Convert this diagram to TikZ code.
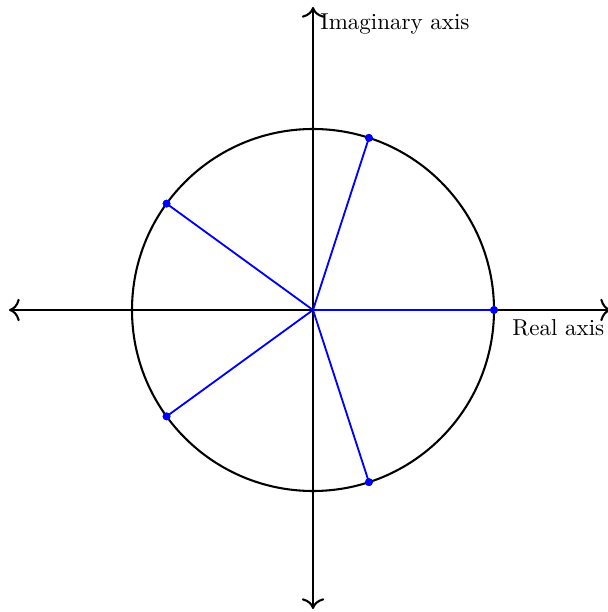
\documentclass[tikz,border=0pt]{standalone}
\usetikzlibrary{calc,arrows.meta}
\begin{document}
\begin{tikzpicture}[x=0.4348pt,y=-0.4348pt,
  axis/.style={line width=0.9pt,{To[scale=1.3]}-{To[scale=1.3]}},
  spoke/.style={blue,line width=0.8pt},
  dot/.style={circle,fill=blue,inner sep=0pt,minimum size=3.4pt},
  lbl/.style={inner sep=0pt,font=\normalsize}]
\useasboundingbox (0,0) rectangle (607,612);
\coordinate (O) at (313,310);
\coordinate (L) at (9,310);
\coordinate (R) at (611,310);
\coordinate (T) at (313,7);
\coordinate (B) at (313,609);
\draw[axis] (L) -- (R);
\draw[axis] (B) -- (T);
\node[lbl,anchor=west] (im) at (320,24) {Imaginary axis};
\node[lbl,anchor=west] (re) at (512,328) {Real axis};
\draw[line width=0.9pt] (O) circle[radius=181];
\foreach \a/\n in {0/p0,72/p1,144/p2,216/p3,288/p4}{
  \node[dot] (\n) at ($(O)+(\a:181)$) {};
}
\foreach \n in {p0,p1,p2,p3,p4}{
  \draw[spoke] (O) -- (\n.center);
}
\foreach \n in {p0,p1,p2,p3,p4}{
  \node[dot] at (\n) {};
}
\end{tikzpicture}
\end{document}
